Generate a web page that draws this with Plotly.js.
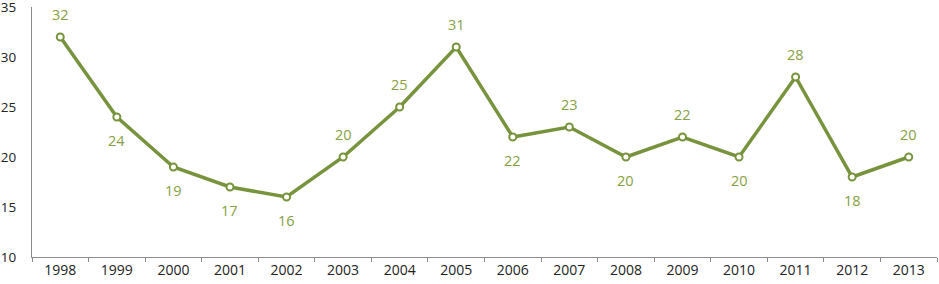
<!DOCTYPE html>
<html><head><meta charset="utf-8">
<script src="https://cdn.plot.ly/plotly-3.0.1.min.js"></script>
<style>html,body{margin:0;padding:0;background:#fff}#c{width:939px;height:284px}</style>
</head><body><div id="c"></div>
<script>
const years = ["1998","1999","2000","2001","2002","2003","2004","2005","2006","2007","2008","2009","2010","2011","2012","2013"];
const values = [32,24,19,17,16,20,25,31,22,23,20,22,20,28,18,20];
const labelAbove = [true,false,false,false,false,true,true,true,false,true,false,true,false,true,false,true];
const yTicks = [10,15,20,25,30,35];

const trace = {
  type: "scatter", mode: "lines+markers",
  x: years, y: values,
  line: {color: "#77933c", width: 3.5},
  marker: {symbol: "circle", size: 7, color: "#ffffff", line: {color: "#77933c", width: 2}},
  cliponaxis: false, hoverinfo: "none"
};
// category axis: annotation x uses the category index
const annotations = years.map((yr, i) => ({
  x: i, y: values[i], xref: "x", yref: "y",
  text: String(values[i]), showarrow: false,
  yshift: labelAbove[i] ? 23 : -23,
  font: {family: "Open Sans, sans-serif", size: 14.5, color: "#86a044"}
}));
const layout = {
  width: 939, height: 284,
  margin: {l: 32, r: 2, t: 7, b: 27},
  paper_bgcolor: "#fff", plot_bgcolor: "#fff",
  showlegend: false,
  font: {family: "Open Sans, sans-serif", size: 14, color: "#222"},
  annotations: annotations,
  xaxis: {type: "category", range: [-0.5, 15.5], showgrid: false, zeroline: false,
    showline: true, linecolor: "#8c8c8c", linewidth: 1,
    ticks: "outside", tickson: "boundaries", ticklen: 4, tickcolor: "#8c8c8c",
    tickfont: {size: 14, color: "#222"}},
  yaxis: {range: [10, 35], tickvals: yTicks, showgrid: false, zeroline: false,
    showline: true, linecolor: "#8c8c8c", linewidth: 1, ticks: "", ticklabelstandoff: 12,
    ticklabeloverflow: "allow", tickfont: {size: 13.5, color: "#222"}}
};
Plotly.newPlot("c", [trace], layout, {displayModeBar: false, staticPlot: true});
</script></body></html>
